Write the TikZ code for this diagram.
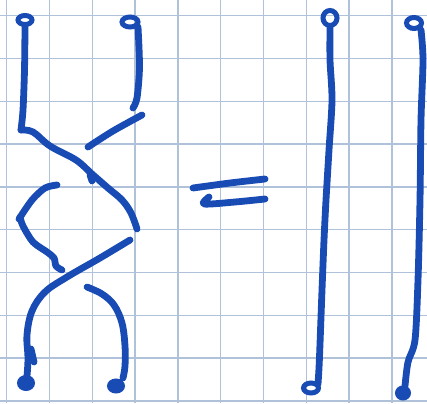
\documentclass[tikz,border=0pt]{standalone}
\begin{document}
\begin{tikzpicture}[x=1pt,y=-1pt,
  gridline/.style={draw=gridc,line width=1.3pt},
  ink/.style={draw=inkc,line width=6.8pt,line cap=round,line join=round},
  ring/.style={draw=inkc,line width=5pt},
  blob/.style={draw=inkc,fill=inkc,line width=3pt}]
\definecolor{gridc}{RGB}{176,193,218}
\definecolor{inkc}{RGB}{25,75,180}
\useasboundingbox (0,0) rectangle (427,403);
\fill[white] (0,0) rectangle (427,403);
% grid
\foreach \k in {0,...,9}{
  \draw[gridline] ({6.7+42.8*\k},0) -- ({6.7+42.8*\k},403);
  \draw[gridline] (0,{15.7+42.8*\k}) -- (427,{15.7+42.8*\k});
}
% ---------- left braid ----------
% strand 1 (top left)
\draw[ring] (25,20) ellipse (7 and 4.5);
\draw[ink] plot[smooth,tension=0.5] coordinates {(25,27) (24.5,70) (23,110) (21,130)};
\draw[ink] plot[smooth,tension=0.6] coordinates {(21,130) (33,132) (50,146) (76,160) (92,174) (108,188) (122,200) (131,213) (137,229)};
\draw[ink] (90,175) -- (92,181);
% strand 2 (top right)
\draw[ring] (130,22) ellipse (8 and 5);
\draw[ink] plot[smooth,tension=0.5] coordinates {(138,27) (139.5,67) (137,98) (133,108)};
\draw[ink] plot[smooth,tension=0.5] coordinates {(142,115) (113,131) (88,147)};
% strand 2 after crossing 1 (under)
\draw[ink] plot[smooth,tension=0.5] coordinates {(57,185) (45,188) (32,200) (19,219)};
\draw[ink] plot[smooth,tension=0.5] coordinates {(20,217) (23,226) (33,242) (47,252) (54,258) (56,266) (62,270)};
% strand 1 after crossing 1, over at crossing 2
\draw[ink] plot[smooth,tension=0.6] coordinates {(130,240) (100,258) (67,277) (45,292) (32,311) (27,335) (28,358) (27,376)};
\draw[ink] (31,349) -- (34,362);
\draw[blob] (26,383) ellipse (7.5 and 6.5);
% strand 2 after crossing 2 (under)
\draw[ink] plot[smooth,tension=0.6] coordinates {(87,287) (102,294) (114,305) (122,323) (125,346) (125,366) (123,378)};
\draw[blob] (116,386) ellipse (7.5 and 6);
% ---------- equal sign ----------
\draw[ink] plot[smooth,tension=0.5] coordinates {(193,188) (230,183) (265,179)};
\draw[ink] plot[smooth,tension=0.5] coordinates {(209,197) (204,204) (235,202) (265,199)};
% ---------- right strands ----------
\draw[ring] (330,18) ellipse (7 and 7.5);
\draw[ink] plot[smooth,tension=0.5] coordinates {(330,28) (330,60) (332,100) (329,150) (326,200) (324,240) (322,290) (320,344) (319,368) (318,384)};
\draw[ring] (311,388) ellipse (7.5 and 5);
\draw[ring] (414,23) ellipse (7.5 and 5.5);
\draw[ink] plot[smooth,tension=0.5] coordinates {(421,30) (423,60) (421,120) (420,200) (418,280) (415,340) (408,362) (405,386)};
\draw[blob] (403,393) ellipse (6.5 and 6);
\end{tikzpicture}
\end{document}
